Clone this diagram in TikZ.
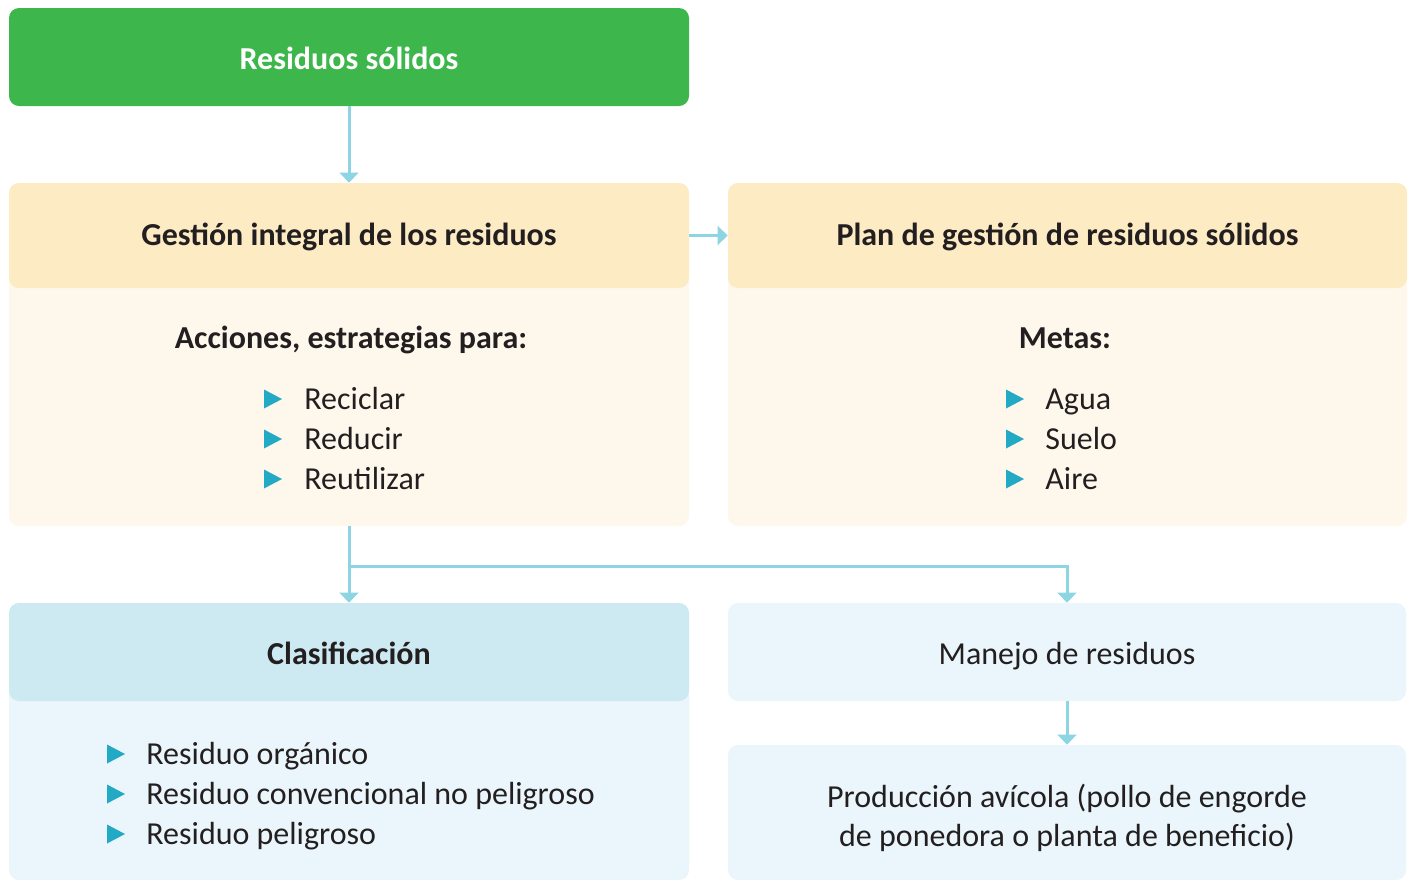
\documentclass[tikz,border=0pt]{standalone}
\usepackage{fontspec}
\setmainfont{Carlito}
\usetikzlibrary{arrows.meta}

\definecolor{boxgreen}{HTML}{3DB64B}
\definecolor{headyellow}{HTML}{FDEBC3}
\definecolor{bodycream}{HTML}{FEF8EC}
\definecolor{headblue}{HTML}{CDEAF3}
\definecolor{bodyblue}{HTML}{EAF6FB}
\definecolor{arrowblue}{HTML}{8DD5E2}
\definecolor{bulletblue}{HTML}{22A9C3}
\definecolor{textdark}{HTML}{231F20}

\begin{document}
\begin{tikzpicture}[x=0.5pt,y=-0.5pt,
    every node/.style={text=textdark, font=\fontsize{16}{20}\selectfont},
    box/.style={rounded corners=5pt, inner sep=0pt, minimum width=340pt,
        text height=14pt, text depth=3.7pt},
    title/.style={font=\fontsize{16}{20}\selectfont\bfseries, inner sep=0pt,
        text height=14pt, text depth=3.7pt},
    item/.style={anchor=base west, inner sep=0pt},
    arr/.style={draw=arrowblue, line width=1.5pt, -{Triangle[width=9.5pt,length=5pt]}},
    bullet/.pic={\fill[bulletblue] (0,-9.5) -- (18,0) -- (0,9.5) -- cycle;}
]
    \useasboundingbox (0,0) rectangle (1413,879);
    \clip (0,0) rectangle (1413,879);

    % top box
    \node[box, fill=boxgreen, minimum height=49pt, text=white, text depth=1.7pt,
        font=\fontsize{16}{20}\selectfont\bfseries] (residuos) at (349,57) {Residuos sólidos};

    % left column
    \node[box, fill=bodycream, minimum height=171.5pt] (gestbody) at (349,354.5) {};
    \node[box, fill=headyellow, minimum height=52.5pt,
        font=\fontsize{16}{20}\selectfont\bfseries] (gestion) at (349,235.5) {Gestión integral de los residuos};
    \node[title] (acciones) at (351,338) {Acciones, estrategias para:};
    \foreach \y in {399,439,479}
        \pic at (264,\y) {bullet};
    \node[item] (reciclar) at (304,409.5) {Reciclar};
    \node[item] (reducir) at (304,449.5) {Reducir};
    \node[item] (reutilizar) at (304,489.5) {Reutilizar};

    % right column
    \node[box, fill=bodycream, minimum height=171.5pt, minimum width=339.5pt] (planbody) at (1067.5,354.5) {};
    \node[box, fill=headyellow, minimum height=52.5pt, minimum width=339.5pt,
        font=\fontsize{16}{20}\selectfont\bfseries] (plan) at (1067.5,235.5) {Plan de gestión de residuos sólidos};
    \node[title] (metas) at (1065,338) {Metas:};
    \foreach \y in {399,439,479}
        \pic at (1006,\y) {bullet};
    \node[item] (agua) at (1045,409.5) {Agua};
    \node[item] (suelo) at (1045,449.5) {Suelo};
    \node[item] (aire) at (1045,489.5) {Aire};

    % clasificacion
    \node[box, fill=bodyblue, minimum height=138.5pt] (clasbody) at (349,741.5) {};
    \node[box, fill=headblue, minimum height=49pt, text depth=1.7pt,
        font=\fontsize{16}{20}\selectfont\bfseries] (clas) at (349,652) {Clasificación};
    \foreach \y in {754,794,834}
        \pic at (107,\y) {bullet};
    \node[item] (organico) at (146,764.5) {Residuo orgánico};
    \node[item] (convencional) at (146,804.5) {Residuo convencional no peligroso};
    \node[item] (peligroso) at (146,844.5) {Residuo peligroso};

    % manejo
    \node[box, fill=bodyblue, minimum height=49pt, minimum width=339pt, text depth=1.7pt] (manejo) at (1067,652) {Manejo de residuos};
    \node[box, fill=bodyblue, minimum height=67.5pt, minimum width=339pt] (prod) at (1067,812.5) {};
    \node[item, anchor=base] (prod1) at (1067,807.5) {Producción avícola (pollo de engorde};
    \node[item, anchor=base] (prod2) at (1067,846.5) {de ponedora o planta de beneficio)};

    % arrows
    \draw[arr] (residuos) -- (gestion);
    \draw[arr] (gestion) -- (plan);
    \draw[arr] (gestbody) -- (clas);
    \coordinate (split) at (349,566);
    \draw[arr] (split) -| (manejo);
    \draw[arr] (manejo) -- (prod);
\end{tikzpicture}
\end{document}
